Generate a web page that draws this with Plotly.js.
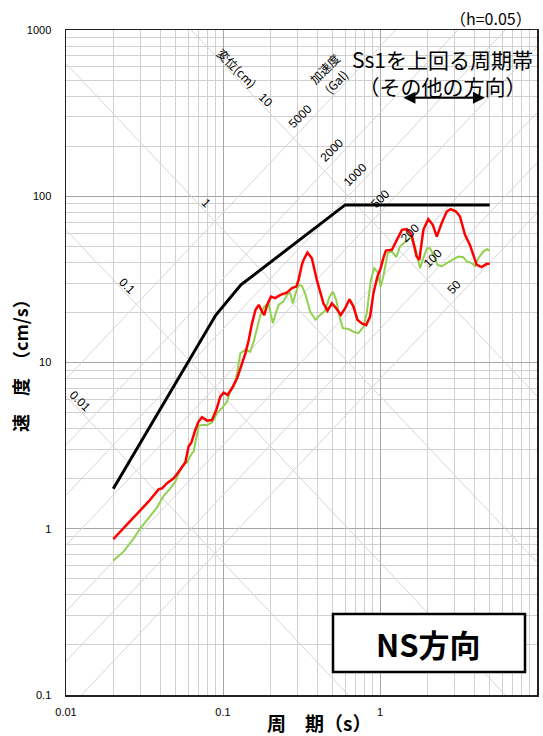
<!DOCTYPE html>
<html><head><meta charset="utf-8">
<script src="https://cdn.plot.ly/plotly-3.0.1.min.js"></script>
<style>html,body{margin:0;padding:0;background:#fff}#chart{width:543px;height:736px}</style>
</head><body><div id="chart"></div>
<script>
// ---- data (period s, pseudo-velocity cm/s) ----
const periodRed = [0.0200,0.0233,0.0264,0.0298,0.0336,0.0390,0.0409,0.0440,0.0485,0.0514,
 0.0548,0.0576,0.0604,0.0629,0.0666,0.0699,0.0735,0.0791,0.0851,0.0907,
 0.0961,0.101,0.107,0.114,0.123,0.132,0.139,0.146,0.153,0.161,
 0.169,0.177,0.183,0.191,0.202,0.215,0.232,0.255,0.275,0.293,
 0.303,0.318,0.326,0.345,0.368,0.396,0.436,0.463,0.494,0.526,
 0.563,0.600,0.639,0.678,0.718,0.766,0.816,0.865,0.908,0.963,
 1.01,1.05,1.09,1.19,1.28,1.38,1.48,1.59,1.71,1.78,
 1.89,2.03,2.17,2.30,2.47,2.66,2.82,3.05,3.23,3.48,
 3.74,3.93,4.13,4.44,4.78,5.0];
const velRed = [0.865,1.01,1.16,1.31,1.46,1.73,1.75,1.88,2.01,2.16,
 2.36,2.51,3.12,3.30,3.93,4.41,4.69,4.47,4.51,5.19,
 6.23,6.59,6.38,7.00,8.04,9.67,11.4,13.7,17.2,20.7,
 22.2,20.3,19.3,22.2,24.9,24.4,25.5,26.3,28.0,28.6,
 31.4,38.7,41.4,45.9,42.4,31.4,22.7,20.5,22.7,21.2,
 19.3,21.2,24.0,21.7,18.1,17.2,16.8,18.9,26.1,32.9,
 36.9,42.4,47.1,47.6,54.7,62.8,63.4,58.6,43.4,41.4,
 62.8,72.8,67.3,57.2,68.9,80.9,83.6,80.9,75.5,58.6,
 51.0,44.4,38.7,37.5,39.2,39.2];
const periodGreen = [0.0200,0.0233,0.0270,0.0298,0.0336,0.0381,0.0419,0.0462,0.0497,0.0522,
 0.0548,0.0567,0.0590,0.0613,0.0635,0.0650,0.0666,0.0683,0.0699,0.0735,
 0.0791,0.0851,0.0916,0.0985,0.106,0.111,0.117,0.123,0.129,0.139,
 0.149,0.157,0.165,0.173,0.183,0.195,0.202,0.208,0.215,0.226,
 0.243,0.258,0.268,0.279,0.288,0.303,0.318,0.334,0.359,0.387,
 0.416,0.447,0.477,0.501,0.526,0.552,0.580,0.630,0.678,0.729,
 0.784,0.824,0.874,0.917,0.963,1.01,1.05,1.12,1.19,1.27,
 1.34,1.47,1.57,1.67,1.80,1.87,1.99,2.08,2.19,2.32,
 2.47,2.66,2.91,3.15,3.39,3.57,3.84,4.03,4.23,4.55,
 4.82,5.0];
const velGreen = [0.643,0.728,0.877,1.01,1.16,1.35,1.58,1.75,1.92,2.16,
 2.33,2.44,2.50,2.69,2.85,2.91,3.34,3.84,4.16,4.21,
 4.21,4.36,4.95,5.31,5.82,6.68,7.16,8.62,11.4,11.9,
 11.6,13.4,16.4,19.3,21.7,22.5,19.3,17.2,19.3,22.2,
 23.3,25.9,26.1,22.7,25.5,29.3,28.9,25.9,20.3,18.1,
 19.3,20.5,24.9,26.7,23.8,18.9,16.1,15.9,15.3,15.0,
 16.4,19.8,31.4,36.9,35.2,28.6,32.9,45.5,46.5,43.0,
 49.8,53.4,56.8,49.8,36.9,41.4,48.7,48.7,44.4,38.7,
 37.8,39.6,41.8,43.4,43.0,40.5,39.6,38.1,42.4,46.5,
 48.1,47.0];
const periodSs1 = [0.02,0.09,0.13,0.6,5.0];
const velSs1 = [1.74,19.3,29.3,88.7,88.7];

// tripartite guide lines
const dispValues = [0.01,0.1,1,10];                 // displacement (cm)
const accValues = [50,100,200,500,1000,2000,5000];  // acceleration (Gal)
const dispLabelText = ['0.01','0.1','1','10'];
const dispLabelPeriod = [0.0122,0.0245,0.078,0.187];
const accLabelText = ['5000','2000','1000','500','200','100','50'];
const accLabelValue = [5000,2000,1000,500,200,100,50];
const accLabelPeriod = [0.313,0.494,0.694,1.0,1.554,2.187,2.96];
const bandPeriods = [1.38,4.66];   // Ss1を上回る周期帯 arrow
const bandVel = 391;

const xTickVals = [0.01,0.1,1,10], xTickText = ['0.01','0.1','1','10'];
const yTickVals = [0.1,1,10,100,1000], yTickText = ['0.1','1','10','100','1000'];

// ---- build ----
const TWO_PI = 2*Math.PI;
const Tends = [0.01,10];
const traces = [];
dispValues.forEach(D => traces.push({x:Tends, y:Tends.map(T=>TWO_PI*D/T), mode:'lines',
  line:{color:'#d6d6d6', width:1}, hoverinfo:'skip'}));
accValues.forEach(A => traces.push({x:Tends, y:Tends.map(T=>A*T/TWO_PI), mode:'lines',
  line:{color:'#d6d6d6', width:1}, hoverinfo:'skip'}));
traces.push({x:periodGreen, y:velGreen, mode:'lines', line:{color:'#92d050', width:2}});
traces.push({x:periodRed, y:velRed, mode:'lines', line:{color:'#ff0000', width:2.5}});
traces.push({x:periodSs1, y:velSs1, mode:'lines', line:{color:'#000000', width:3}});

function minorVals(lo, hi){const o=[];for(let e=lo;e<hi;e++)for(let m=2;m<=9;m++)o.push(m*Math.pow(10,e));return o;}

const lab = 'Liberation Sans, Noto Sans CJK JP, sans-serif';
const jp = 'Noto Sans CJK JP, sans-serif';
const ann = [];
const C = {xanchor:'center', yanchor:'middle', showarrow:false};
dispLabelText.forEach((t,i)=>{
  const T = dispLabelPeriod[i], D = parseFloat(t);
  ann.push(Object.assign({x:Math.log10(T), y:Math.log10(TWO_PI*D/T), xref:'x', yref:'y', text:t,
    textangle:45, yshift:9, font:{family:lab, size:12, color:'#000'}}, C));
});
accLabelText.forEach((t,i)=>{
  const T = accLabelPeriod[i], A = accLabelValue[i];
  ann.push(Object.assign({x:Math.log10(T), y:Math.log10(A*T/TWO_PI), xref:'x', yref:'y', text:t,
    textangle:-45, yshift:14, font:{family:lab, size:12, color:'#000'}}, C));
});
const px = p => (p-66)/471, py = p => (695-p)/665;
ann.push(Object.assign({xref:'paper', yref:'paper', x:px(237), y:py(67), text:'変位(cm)', textangle:45, font:{family:jp, size:12, color:'#000'}}, C));
ann.push(Object.assign({xref:'paper', yref:'paper', x:px(324), y:py(68), text:'加速度', textangle:-45, font:{family:jp, size:12, color:'#000'}}, C));
ann.push(Object.assign({xref:'paper', yref:'paper', x:px(336), y:py(82), text:'(Gal)', textangle:-45, font:{family:jp, size:12, color:'#000'}}, C));
ann.push({xref:'paper', yref:'paper', x:px(534), y:py(18), xanchor:'right', yanchor:'middle', text:'（h=0.05）', showarrow:false, font:{family:jp, size:16, color:'#000'}});
ann.push(Object.assign({xref:'paper', yref:'paper', x:px(442), y:py(72.5), align:'center',
  text:'Ss1を上回る周期帯<br>（その他の方向）', font:{family:jp, size:21, color:'#000'}}, C));
ann.push({x:Math.log10(bandPeriods[1]), y:Math.log10(bandVel), ax:Math.log10(bandPeriods[0]), ay:Math.log10(bandVel),
  xref:'x', yref:'y', axref:'x', ayref:'y', text:'', showarrow:true, arrowhead:2, arrowside:'end+start', arrowsize:1.2, arrowwidth:2, arrowcolor:'#000'});
ann.push(Object.assign({xref:'paper', yref:'paper', x:px(428), y:py(643), text:'<b>NS方向</b>', font:{family:jp, size:31, color:'#000'}}, C));
ann.push(Object.assign({xref:'paper', yref:'paper', x:px(319), y:py(723), text:'<b>周　期（s）</b>', font:{family:jp, size:19, color:'#000'}}, C));
ann.push(Object.assign({xref:'paper', yref:'paper', x:px(20), y:py(361), text:'<b>速　度　（cm/s）</b>', textangle:-90, font:{family:jp, size:18, color:'#000'}}, C));

const axisCommon = {type:'log', showgrid:true, gridcolor:'#a6a6a6', gridwidth:1, zeroline:false,
  showline:true, linecolor:'#222', linewidth:1.5, mirror:true, ticks:'outside', tickcolor:'rgba(0,0,0,0)',
  tickfont:{family:lab, size:11, color:'#000'}, tickmode:'array'};

const layout = {
  width:543, height:736, margin:{l:66, r:6, t:30, b:41},
  paper_bgcolor:'#fff', plot_bgcolor:'#fff', showlegend:false,
  font:{family:lab, size:11, color:'#000'},
  xaxis:Object.assign({}, axisCommon, {range:[-2,1], tickvals:xTickVals, ticktext:xTickText, ticklen:6,
    minor:{tickmode:'array', tickvals:minorVals(-2,1), showgrid:true, gridcolor:'#d0d0d0', gridwidth:1, ticks:''}}),
  yaxis:Object.assign({}, axisCommon, {range:[-1,3], tickvals:yTickVals, ticktext:yTickText, ticklen:11,
    minor:{tickmode:'array', tickvals:minorVals(-1,3), showgrid:true, gridcolor:'#d0d0d0', gridwidth:1, ticks:''}}),
  shapes:[{type:'rect', xref:'paper', yref:'paper', x0:px(333), x1:px(525), y0:py(672), y1:py(614),
    line:{color:'#000', width:2.5}, fillcolor:'#fff', layer:'above'}],
  annotations:ann
};
Plotly.newPlot('chart', traces, layout, {staticPlot:true, displayModeBar:false});
</script></body></html>
